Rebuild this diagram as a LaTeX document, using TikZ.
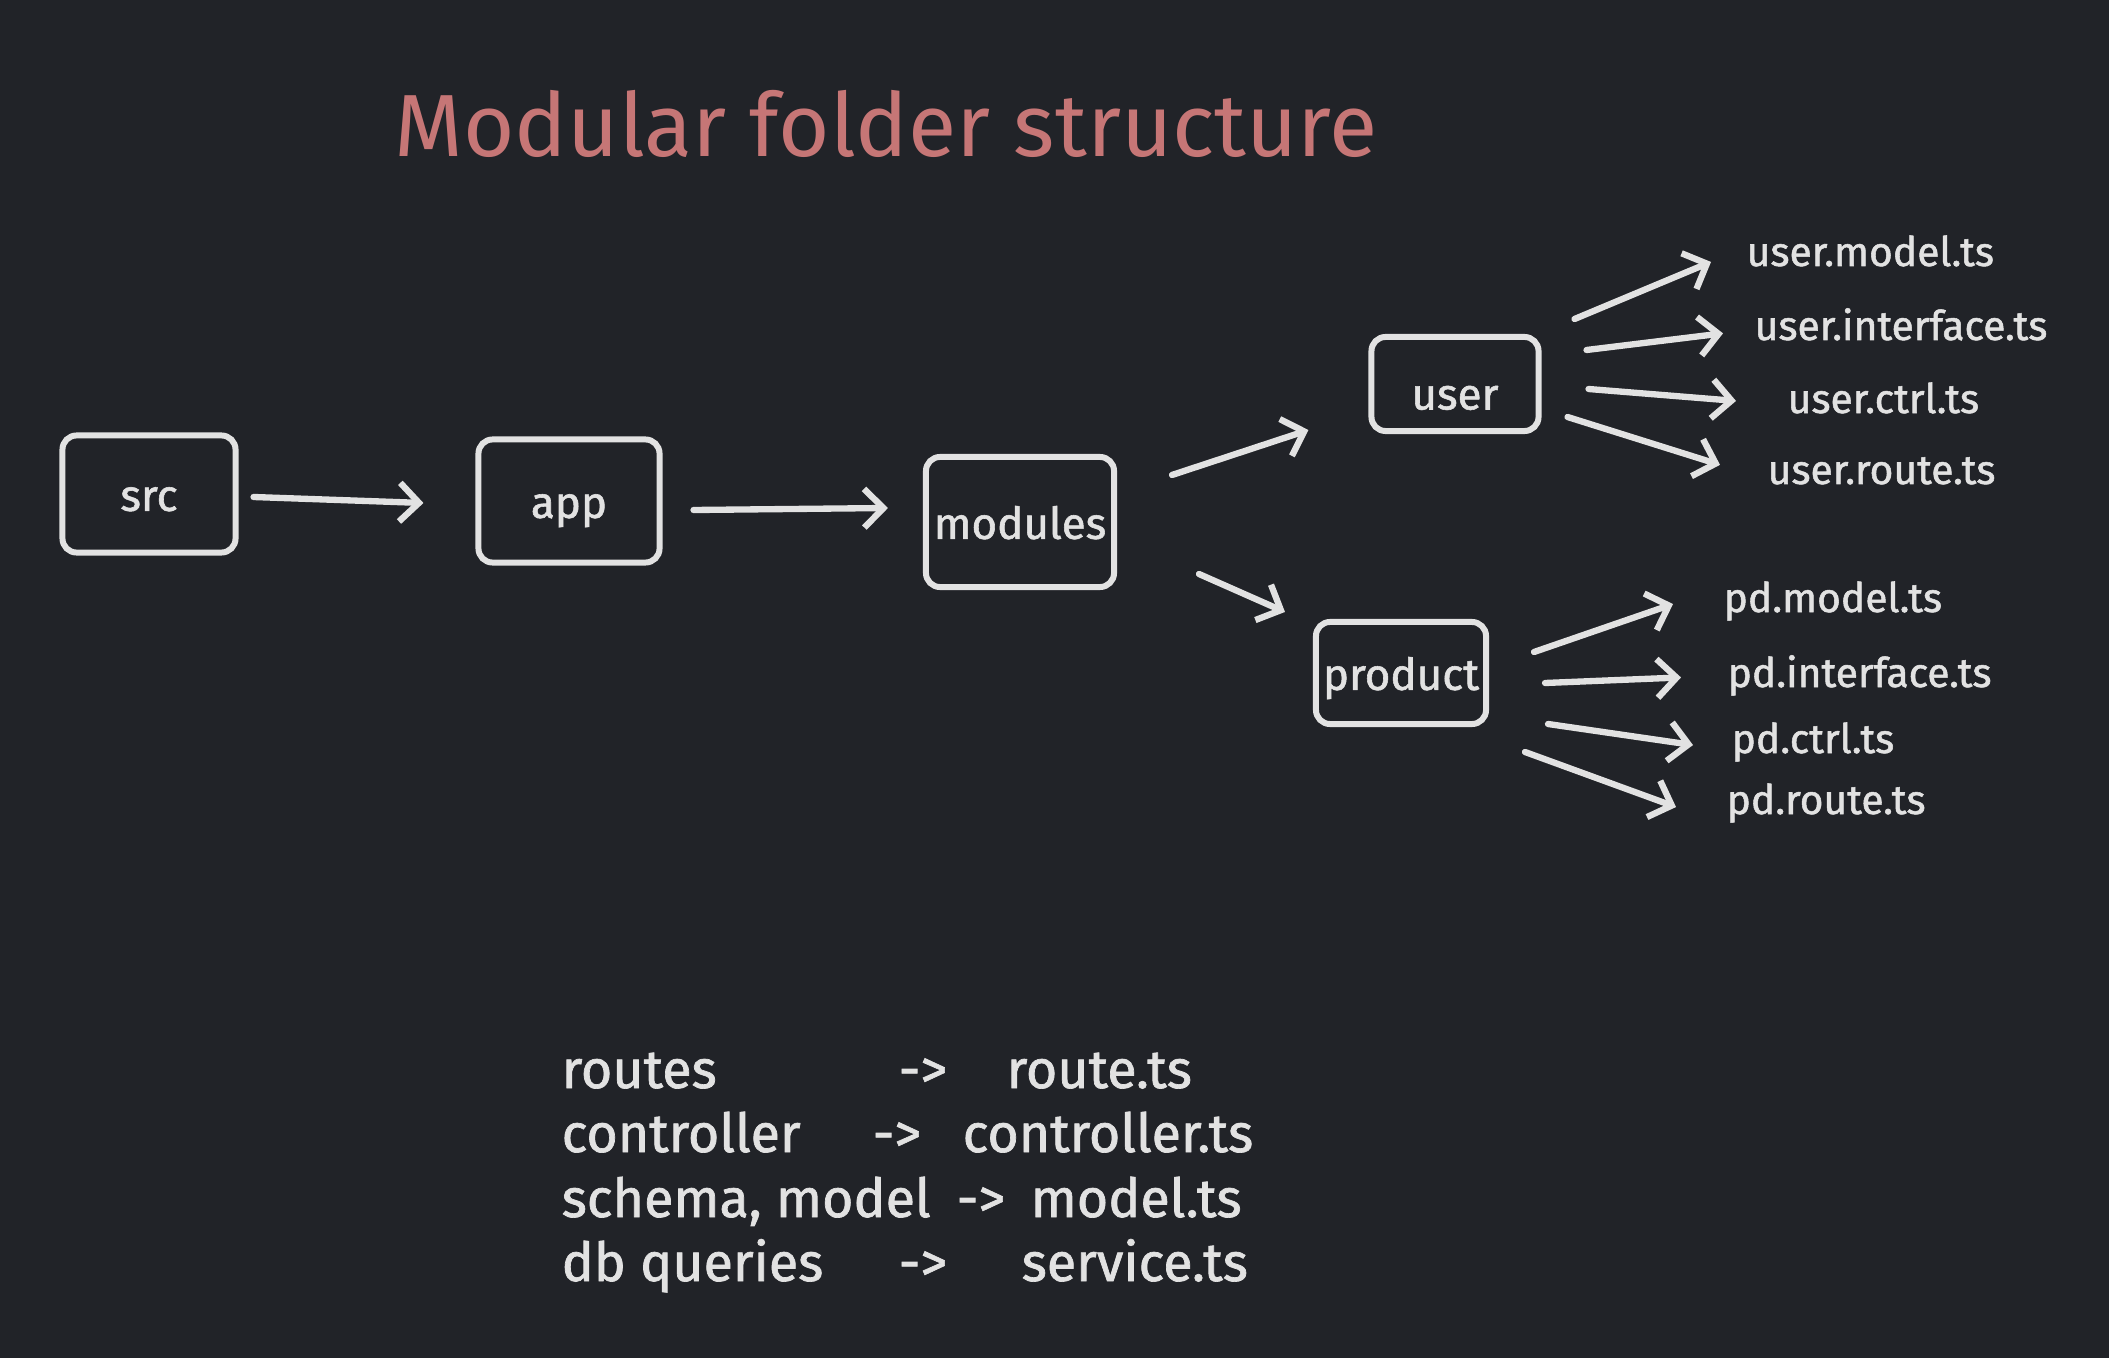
\documentclass[tikz,border=0pt]{standalone}
\usepackage{fontspec}
\setmainfont{Fira Sans}
\newfontfamily\handfont{Fira Sans}[FakeBold=1.3]
\usetikzlibrary{arrows.meta}
\definecolor{bgdark}{HTML}{212328}
\definecolor{chalk}{HTML}{E2E2E2}
\definecolor{titlered}{HTML}{C67676}
\tikzset{
  heading/.style={text=titlered, font=\fontsize{25.1}{30}\selectfont, anchor=base west, inner sep=0pt},
  folder/.style={draw=chalk, line width=1.7pt, rounded corners=4pt, text=chalk, font=\handfont\fontsize{12.5}{15}\selectfont, inner sep=0pt, text height=9.6pt, text depth=0pt},
  file/.style={text=chalk, font=\handfont\fontsize{11.6}{14}\selectfont, anchor=base west, inner sep=0pt},
  note/.style={text=chalk, font=\handfont\fontsize{15.3}{18}\selectfont, anchor=base west, inner sep=0pt},
  link/.style={draw=chalk, line width=1.8pt, line cap=round, -{Straight Barb[length=5.5pt,width=11pt]}},
}
\begin{document}
\begin{tikzpicture}[x=0.01cm, y=-0.01cm]

  \fill[bgdark] (0,0) rectangle (2109,1358);

  % Define nodes
  \node[heading] (title) at (394,157) {Modular folder structure};
  \node[folder, minimum width=1.73cm, minimum height=1.17cm] (src) at (149,494) {src};
  \node[folder, minimum width=1.81cm, minimum height=1.23cm] (app) at (569,501) {app};
  \node[folder, minimum width=1.88cm, minimum height=1.30cm] (mod) at (1020,522) {modules};
  \node[folder, minimum width=1.67cm, minimum height=0.94cm, text height=14.5pt] (usr) at (1455,384) {user};
  \node[folder, minimum width=1.70cm, minimum height=1.02cm] (prd) at (1401,673) {product};
  \node[file] (um) at (1746,266) {user.model.ts};
  \node[file] (ui) at (1754,340) {user.interface.ts};
  \node[file] (uc) at (1787,413) {user.ctrl.ts};
  \node[file] (ur) at (1767,484) {user.route.ts};
  \node[file] (pm) at (1723,612) {pd.model.ts};
  \node[file] (pi) at (1727,687) {pd.interface.ts};
  \node[file] (pc) at (1731,753) {pd.ctrl.ts};
  \node[file] (pr) at (1726,814) {pd.route.ts};
  % Legend
  \node[note] (l1) at (561,1088) {routes};
  \node[note] (a1) at (898,1088) {->};
  \node[note] (r1) at (1006,1088) {route.ts};
  \node[note] (l2) at (561,1152) {controller};
  \node[note] (a2) at (872,1152) {->};
  \node[note] (r2) at (962,1152) {controller.ts};
  \node[note] (l3) at (561,1217) {schema, model};
  \node[note] (a3) at (956,1217) {->};
  \node[note] (r3) at (1030,1217) {model.ts};
  \node[note] (l4) at (561,1281) {db queries};
  \node[note] (a4) at (898,1281) {->};
  \node[note] (r4) at (1021,1281) {service.ts};

  % Connect the nodes
  \draw[link] ([shift={(15,3)}]src.east) -- ([shift={(-52,2)}]app.west);
  \draw[link] ([shift={(31,9)}]app.east) -- ([shift={(-35,-14)}]mod.west);
  \draw[link] ([shift={(55,21)}]mod.north east) -- ([shift={(-60,-4)}]usr.south west);
  \draw[link] ([shift={(82,-16)}]mod.south east) -- ([shift={(-28,-7)}]prd.north west);
  \draw[link] ([shift={(33,-65)}]usr.east) -- ([shift={(-35,11)}]um.west);
  \draw[link] ([shift={(45,-34)}]usr.east) -- ([shift={(-31,9)}]ui.west);
  \draw[link] ([shift={(47,5)}]usr.east) -- ([shift={(-51,3)}]uc.west);
  \draw[link] ([shift={(26,33)}]usr.east) -- ([shift={(-47,-6)}]ur.west);
  \draw[link] ([shift={(45,-21)}]prd.east) -- ([shift={(-50,3)}]pm.west);
  \draw[link] ([shift={(56,10)}]prd.east) -- ([shift={(-46,2)}]pi.west);
  \draw[link] ([shift={(59,51)}]prd.east) -- ([shift={(-38,3)}]pc.west);
  \draw[link] ([shift={(36,79)}]prd.east) -- ([shift={(-50,4)}]pr.west);

\end{tikzpicture}
\end{document}
